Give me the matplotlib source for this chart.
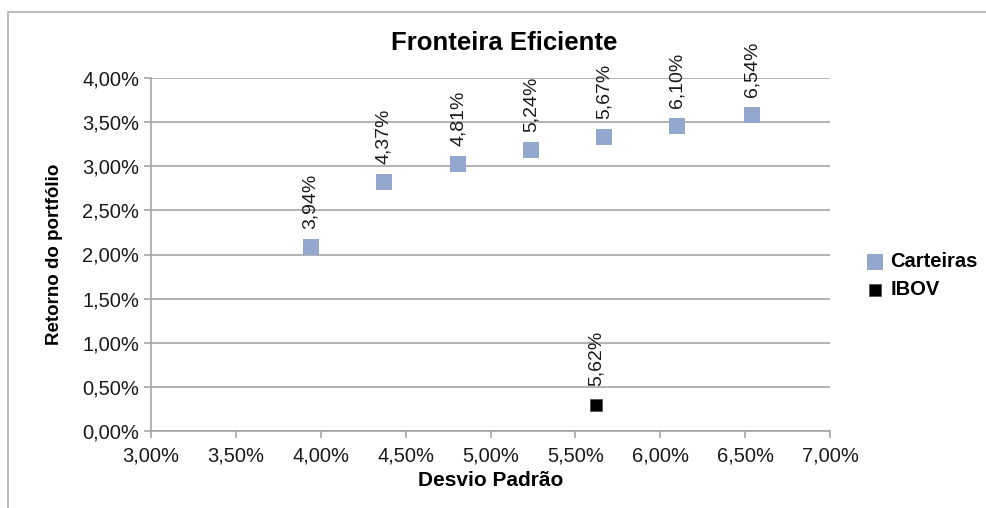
import matplotlib
matplotlib.use("Agg")
import matplotlib.pyplot as plt
from matplotlib.patches import Rectangle
from matplotlib.ticker import FuncFormatter, MultipleLocator

plt.rcParams["font.family"] = ["Liberation Sans", "DejaVu Sans"]

# desvio padrao (%) e retorno (%)
carteiras_x = [3.94, 4.37, 4.81, 5.24, 5.67, 6.10, 6.54]
carteiras_y = [2.09, 2.82, 3.03, 3.18, 3.33, 3.46, 3.58]
ibov_x = [5.62]
ibov_y = [0.30]

BLUE = "#94A8CF"
GRID = "#A6A6A6"
TXT = "#1A1A1A"


def pct(v, _=None):
    return f"{v:.2f}%".replace(".", ",")


fig = plt.figure(figsize=(9.87, 5.08), dpi=100)
fig.patches.append(Rectangle((8 / 987, -0.1), 1.2, 1.1 - 12 / 508,
                             transform=fig.transFigure, fill=False,
                             edgecolor="#B0B0B0", linewidth=1.2))
ax = fig.add_axes([151 / 987, 77 / 508, (830 - 151) / 987, (430 - 77) / 508])

ax.scatter(carteiras_x, carteiras_y, marker="s", s=120, color=BLUE,
           linewidths=0, label="Carteiras", zorder=3)
ax.scatter(ibov_x, ibov_y, marker="s", s=75, color="black",
           edgecolors="#555555", linewidths=0.6, label="IBOV", zorder=3)

for xs, ys in [(carteiras_x, carteiras_y), (ibov_x, ibov_y)]:
    for x, y in zip(xs, ys):
        ax.annotate(pct(x), (x, y), xytext=(0, 13), textcoords="offset points",
                    rotation=90, ha="center", va="bottom", fontsize=14,
                    color=TXT)

ax.set_xlim(3, 7)
ax.set_ylim(0, 4)
ax.xaxis.set_major_locator(MultipleLocator(0.5))
ax.yaxis.set_major_locator(MultipleLocator(0.5))
ax.xaxis.set_major_formatter(FuncFormatter(pct))
ax.yaxis.set_major_formatter(FuncFormatter(pct))
ax.tick_params(labelsize=14.5, colors=GRID, labelcolor=TXT, length=5, width=1.2)
ax.tick_params(axis="x", pad=6)

ax.grid(axis="y", color=GRID, linewidth=1.2)
ax.set_axisbelow(True)
for s in ["top", "right"]:
    ax.spines[s].set_visible(False)
for s in ["left", "bottom"]:
    ax.spines[s].set_color(GRID)
    ax.spines[s].set_linewidth(1.2)

ax.set_title("Fronteira Eficiente", fontsize=18.5, fontweight="bold", pad=20,
             x=0.52)
ax.set_xlabel("Desvio Padrão", fontsize=15, fontweight="bold", labelpad=4)
ax.set_ylabel("Retorno do portfólio", fontsize=13.5, fontweight="bold",
              labelpad=14)

fig.legend(loc="upper left", bbox_to_anchor=(857 / 987, 1 - 242 / 508),
           frameon=False, borderpad=0, handlelength=0.8, handletextpad=0.35,
           labelspacing=0.45, prop={"weight": "bold", "size": 14.5})

fig.savefig("out.png", dpi=100)
